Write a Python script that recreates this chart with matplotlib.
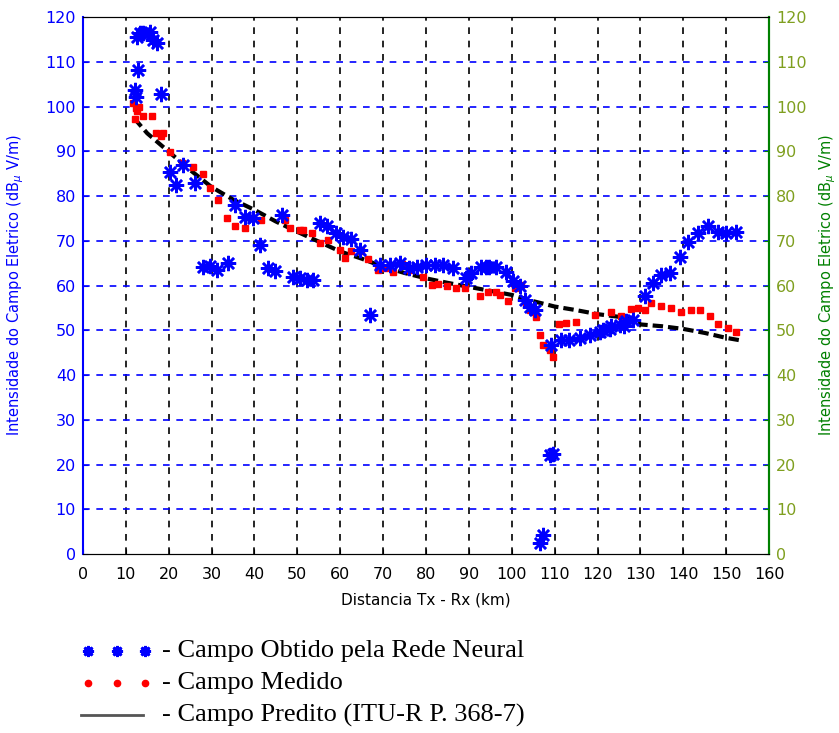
import matplotlib.pyplot as plt
from matplotlib.lines import Line2D

# Campo obtido pela rede neural (km, dBuV/m)
rede_x = [12.1, 12.4, 12.6, 12.9, 13.3, 14.1, 15.6, 16.4, 17.2, 18.3,
          20.3, 21.8, 23.4, 26.1, 28.0, 29.6, 31.2, 33.8, 35.4, 37.8,
          39.7, 41.3, 43.1, 44.8, 46.3, 49.0, 50.6, 52.2, 53.7, 55.2,
          56.8, 59.1, 60.6, 62.6, 64.6, 67.0, 69.2, 71.5, 73.9, 76.0,
          78.0, 80.1, 82.0, 84.0, 86.3, 89.4, 90.6, 92.9, 94.1, 94.8,
          96.4, 98.7, 100.3, 101.9, 103.0, 104.2, 105.4, 106.5, 107.3, 108.9,
          109.6, 109.2, 111.5, 113.4, 115.8, 118.2, 120.5, 121.3, 122.8, 123.2,
          125.2, 126.1, 126.7, 128.3, 131.0, 132.9, 134.9, 136.8, 139.2, 141.0,
          143.4, 145.7, 148.0, 150.0, 152.4]
rede_y = [103.7, 102.2, 115.6, 108.2, 116.4, 116.4, 116.7, 114.9, 114.1, 102.9,
          85.4, 82.5, 86.9, 82.9, 64.1, 64.4, 63.5, 65.0, 78.0, 75.4,
          75.0, 69.0, 63.9, 63.2, 75.8, 62.0, 61.6, 61.3, 61.3, 73.9,
          73.2, 71.7, 70.9, 70.5, 67.9, 53.5, 64.6, 64.6, 65.0, 64.0,
          64.2, 64.6, 64.6, 64.6, 63.9, 61.6, 62.7, 64.2, 64.2, 64.2,
          64.2, 63.1, 60.9, 59.8, 56.8, 55.3, 54.6, 2.4, 4.2, 22.1,
          22.4, 46.7, 47.8, 47.8, 48.2, 48.9, 49.7, 50.0, 50.2, 50.9,
          51.2, 50.9, 52.0, 52.3, 57.7, 60.5, 62.3, 62.7, 66.3, 69.8,
          71.7, 73.2, 72.0, 71.7, 72.0]

# Campo medido
medido_x = [11.7, 12.1, 12.4, 12.6, 13.0, 14.0, 16.0, 17.1, 18.3, 18.7,
            20.3, 23.0, 25.6, 28.0, 29.6, 31.4, 33.5, 35.4, 37.8, 39.7,
            41.6, 47.0, 48.3, 50.6, 51.3, 53.3, 55.2, 57.2, 59.9, 61.0,
            62.6, 64.9, 66.4, 68.8, 70.4, 72.3, 74.3, 76.2, 79.3, 81.3,
            82.9, 84.8, 87.1, 89.0, 92.5, 94.5, 96.4, 97.2, 99.2, 100.7,
            102.2, 103.4, 104.2, 105.4, 105.7, 106.5, 107.3, 108.9, 109.6, 111.0,
            112.7, 115.0, 119.3, 123.2, 125.5, 127.9, 129.4, 131.0, 132.5, 134.9,
            137.2, 139.5, 141.9, 143.8, 146.2, 148.0, 150.4, 152.4]
medido_y = [100.7, 97.1, 99.6, 99.0, 100.0, 97.8, 97.8, 94.0, 93.3, 94.0,
            89.8, 87.3, 86.5, 85.0, 81.8, 79.0, 75.0, 73.3, 72.9, 75.0,
            74.6, 74.6, 72.8, 72.4, 72.4, 71.7, 69.4, 70.2, 67.9, 66.1,
            67.6, 67.6, 66.0, 63.5, 63.9, 63.1, 64.9, 63.5, 62.0, 60.1,
            60.3, 60.0, 59.4, 59.4, 57.6, 58.6, 58.6, 57.8, 56.6, 59.4,
            60.1, 56.4, 54.5, 54.1, 53.0, 48.9, 46.7, 45.6, 44.1, 51.4,
            51.6, 51.9, 53.4, 54.1, 53.2, 54.7, 54.9, 54.5, 56.0, 55.4,
            54.9, 54.0, 54.5, 54.5, 53.2, 51.4, 50.5, 49.5]

# Campo predito (ITU-R P. 368-7)
pred_x = [12, 15, 20, 25, 30, 35, 40, 45, 50, 55, 60, 65, 70, 75, 80, 85,
          90, 95, 100, 105, 110, 115, 120, 125, 129, 130, 135, 140, 145, 150, 153]
pred_y = [97.3, 94.0, 89.9, 85.8, 82.0, 79.2, 76.9, 74.3, 72.0, 69.8, 67.6, 66.0,
          64.2, 62.8, 61.6, 60.6, 59.7, 58.8, 57.9, 56.5, 55.3, 54.5, 53.6, 53.0,
          52.4, 51.3, 50.9, 50.3, 49.4, 48.3, 47.8]

xticks = list(range(0, 161, 10))
yticks = list(range(0, 121, 10))
ylabel = 'Intensidade do Campo Eletrico (dB$_{\\mu}$ V/m)'

# asterisk marker like matlab '*'
star = (8, 2, 0)

fig = plt.figure(figsize=(8.39, 7.33), dpi=100)
ax = fig.add_axes([0.0989, 0.2442, 0.8177, 0.7326])

ax.plot(pred_x, pred_y, color='black', lw=3, ls=(0, (2.5, 1.2)), zorder=3)
ax.plot(medido_x, medido_y, 's', color='red', ms=4.5, mec='red', zorder=4)
ax.plot(rede_x, rede_y, ls='none', marker=star, color='blue', ms=11,
        mew=1.8, zorder=5)

ax.set_xlim(0, 160)
ax.set_ylim(0, 120)
ax.set_xticks(xticks)
ax.set_yticks(yticks)

# grid: vertical black dashed, horizontal blue dashed
for x in xticks[1:-1]:
    ax.axvline(x, color='black', ls=(0, (4, 4)), lw=1.2, zorder=1)
for y in yticks[1:-1]:
    ax.axhline(y, color='blue', ls=(0, (4, 4)), lw=1.2, zorder=1)

ax.tick_params(axis='x', direction='in', labelsize=11.5, colors='black', pad=9)
ax.tick_params(axis='y', direction='in', labelsize=11.5, colors='blue', pad=5)
ax.spines['left'].set_color('blue')
ax.spines['left'].set_linewidth(1.5)
ax.spines['right'].set_color('green')
ax.spines['right'].set_linewidth(1.5)
ax.spines['top'].set_color('#333333')
ax.spines['bottom'].set_color('#333333')
ax.set_xlabel('Distancia Tx - Rx (km)', fontsize=11, labelpad=8)
ax.set_ylabel(ylabel, color='blue', fontsize=10.5, labelpad=14)

ax2 = ax.twinx()
ax2.set_ylim(0, 120)
ax2.set_yticks(yticks)
ax2.tick_params(axis='y', direction='in', labelsize=11.5, colors='green',
                labelcolor='#7f9f1f', pad=5)
ax2.spines['right'].set_color('green')
ax2.spines['right'].set_linewidth(1.5)
ax2.spines['left'].set_visible(False)
ax2.set_ylabel(ylabel, color='green', fontsize=10.5, labelpad=8)

# legend below the axes
serif = 'Liberation Serif'
fig.add_artist(Line2D([0.105, 0.139, 0.173], [0.112] * 3, ls='none', marker=star,
                      color='blue', ms=8, mew=2))
fig.text(0.193, 0.112, '- Campo Obtido pela Rede Neural', family=serif,
         fontsize=19, va='center')
fig.add_artist(Line2D([0.105, 0.139, 0.173], [0.068] * 3, ls='none', marker='o',
                      color='red', ms=4.5))
fig.text(0.193, 0.068, '- Campo Medido', family=serif, fontsize=19, va='center')
fig.add_artist(Line2D([0.096, 0.171], [0.024, 0.024], color='#555555', lw=2))
fig.text(0.193, 0.024, '- Campo Predito (ITU-R P. 368-7)', family=serif,
         fontsize=19, va='center')

fig.savefig('out.png', dpi=100)
